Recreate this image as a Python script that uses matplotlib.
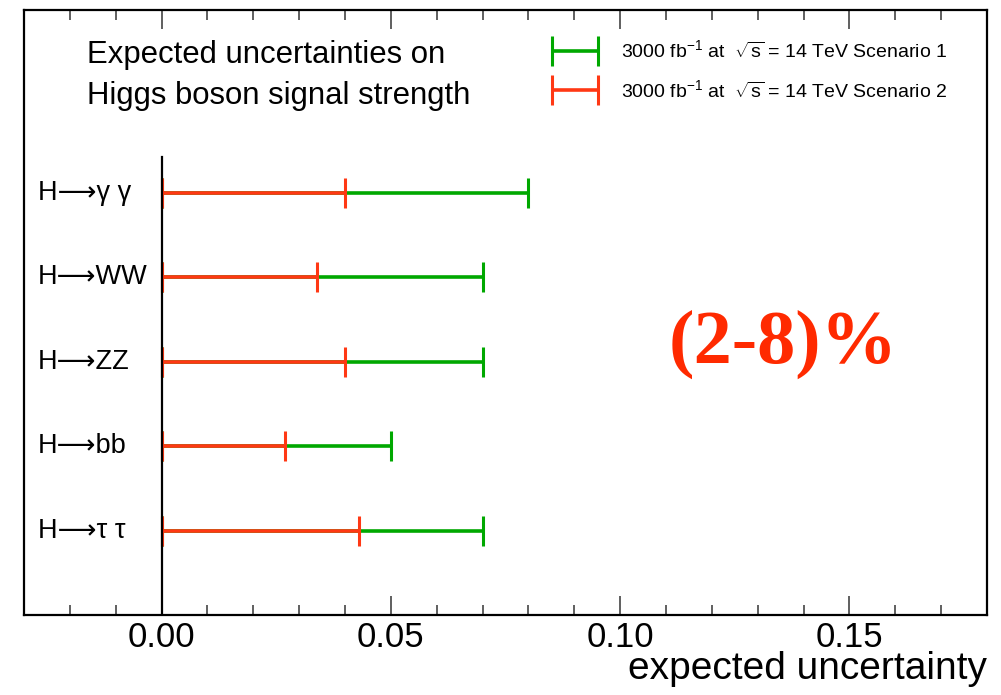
import numpy as np
import matplotlib.pyplot as plt
from matplotlib.legend_handler import HandlerErrorbar

plt.rcParams['font.family'] = ['Liberation Sans', 'DejaVu Sans']
plt.rcParams['mathtext.fontset'] = 'custom'
plt.rcParams['mathtext.rm'] = 'Liberation Sans'
plt.rcParams['mathtext.it'] = 'Liberation Sans'

channels = ['H⟶γ γ', 'H⟶WW', 'H⟶ZZ', 'H⟶bb', 'H⟶τ τ']
scenario1 = [0.080, 0.070, 0.070, 0.050, 0.070]
scenario2 = [0.040, 0.034, 0.040, 0.027, 0.043]
labels = [r'3000 fb$^{-1}$ at  $\sqrt{s}$ = 14 TeV Scenario 1',
          r'3000 fb$^{-1}$ at  $\sqrt{s}$ = 14 TeV Scenario 2']

green = '#00a800'
red = '#ff3814'


def drawBars(ax, ypos, values, color, label, z):
    values = np.array(values)
    # bar from zero to the value, cap only visible at the right end
    return ax.errorbar(values / 2, ypos, xerr=values / 2, fmt='none',
                       ecolor=color, elinewidth=2.6, capsize=11, capthick=2.2,
                       label=label, zorder=z)


def main():
    fig = plt.figure(figsize=(10.01, 6.95), dpi=100)
    ax = fig.add_axes([24 / 1001, 80 / 695, 963 / 1001, 605 / 695])

    ypos = np.arange(len(channels), 0, -1)
    h1 = drawBars(ax, ypos, scenario1, green, labels[0], 2)
    h2 = drawBars(ax, ypos, scenario2, red, labels[1], 3)

    ax.plot([0, 0], [0, 5.42], color='black', lw=1.6, zorder=5)

    ax.set_xlim(-0.03, 0.18)
    ax.set_ylim(0, 7.16)
    ax.set_xticks([0.0, 0.05, 0.10, 0.15])
    ax.set_xticklabels(['0.00', '0.05', '0.10', '0.15'])
    ax.set_xticks(np.arange(-0.02, 0.18, 0.01), minor=True)
    ax.set_yticks([])
    ax.tick_params(axis='x', which='major', direction='in', length=14, width=1.2,
                   top=True, labelsize=25, pad=4, colors='#444444', labelcolor='black')
    ax.tick_params(axis='x', which='minor', direction='in', length=7, width=1.2,
                   top=True, colors='#444444')
    for s in ax.spines.values():
        s.set_linewidth(1.6)

    ax.set_xlabel('expected uncertainty', fontsize=28, loc='right', labelpad=-2)

    for y, name in zip(ypos, channels):
        ax.text(0.0145, y, name, transform=ax.get_yaxis_transform(),
                fontsize=19.5, va='center', ha='left')

    ax.text(0.065, 0.926, 'Expected uncertainties on', transform=ax.transAxes,
            fontsize=22.4, va='center', ha='left')
    ax.text(0.065, 0.858, 'Higgs boson signal strength', transform=ax.transAxes,
            fontsize=22.4, va='center', ha='left')

    ax.legend(handles=[h1, h2], loc='upper left', bbox_to_anchor=(0.530, 0.98),
              frameon=False, fontsize=14, handlelength=2.37, handletextpad=1.2,
              labelspacing=0.9,
              handler_map={h1: HandlerErrorbar(xerr_size=1.18),
                           h2: HandlerErrorbar(xerr_size=1.18)})

    ax.text(0.788, 0.448, '(2-8)%', transform=ax.transAxes, fontsize=55,
            family='Liberation Serif', fontweight='bold', color='#ff2a00',
            ha='center', va='center')

    fig.savefig('out.png', dpi=100)


if __name__ == "__main__":
    main()
